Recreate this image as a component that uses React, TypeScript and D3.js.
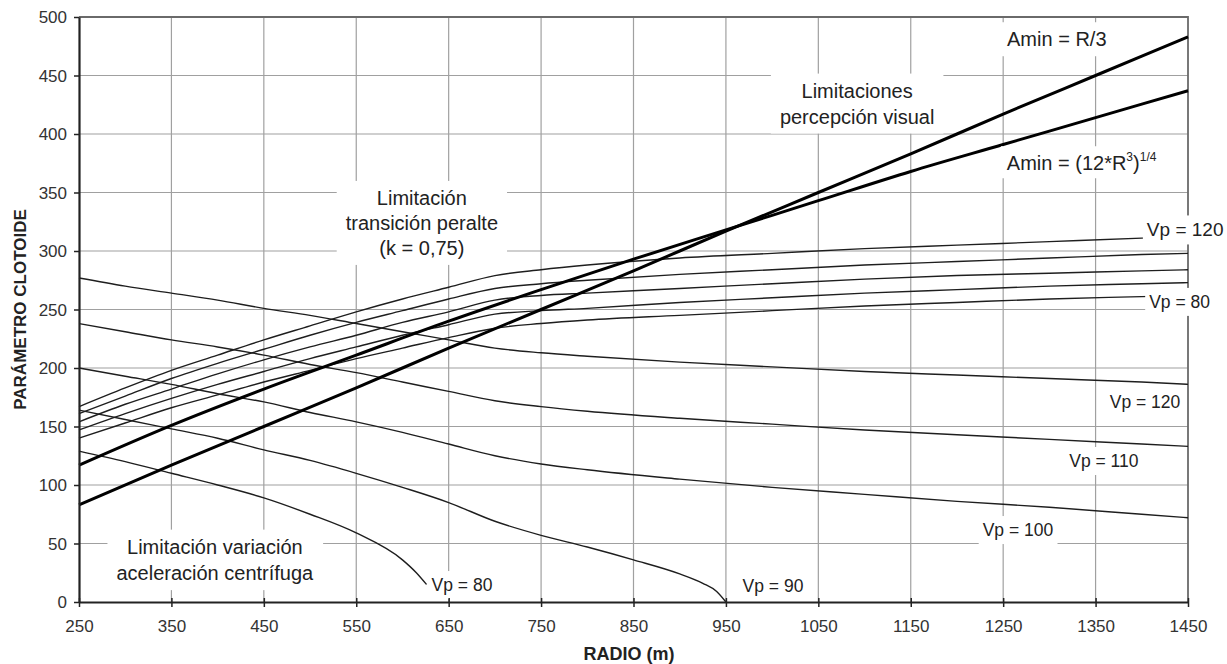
import { useEffect, useRef } from "react";
import * as d3 from "d3";

const W = 1227;
const H = 664;

// axis ticks
const radioTicks = [250, 350, 450, 550, 650, 750, 850, 950, 1050, 1150, 1250, 1350, 1450];
const parametroTicks = [0, 50, 100, 150, 200, 250, 300, 350, 400, 450, 500];

// Limitación transición peralte (k = 0,75), Vp = 80 ... 120
const radiosPeralte = [250, 300, 350, 400, 450, 500, 550, 600, 650, 700, 750, 800, 900, 1000, 1100, 1200, 1300, 1400, 1450];
const peralteVp120 = [167, 183, 198, 211, 224, 236, 248, 259, 269, 279, 284, 288, 294, 298, 302, 305, 308, 311, 312];
const peralteVp110 = [161, 176, 191, 204, 216, 228, 239, 249, 259, 268, 272, 275, 280, 284, 288, 291, 294, 297, 298];
const peralteVp100 = [154, 169, 182, 195, 207, 218, 228, 239, 248, 258, 262, 264, 268, 272, 276, 279, 281, 283, 284];
const peralteVp90 = [147, 161, 174, 186, 197, 208, 218, 228, 237, 246, 249, 251, 256, 260, 264, 267, 270, 272, 273];
const peralteVp80 = [140, 153, 166, 177, 188, 198, 208, 217, 226, 234, 238, 241, 245, 249, 253, 256, 259, 261, 262];

// Limitación variación aceleración centrífuga
const radiosCentr = [250, 300, 350, 400, 450, 500, 550, 600, 650, 700, 750, 800, 900, 1000, 1100, 1200, 1300, 1400, 1450];
const centrVp120 = [277, 270, 264, 258, 251, 245, 238, 231, 224, 217, 213, 210, 205, 201, 197, 194, 191, 188, 186];
const centrVp110 = [238, 231, 224, 218, 211, 203, 196, 188, 180, 172, 167, 163, 157, 152, 147, 143, 139, 135, 133];
const centrVp100 = [200, 193, 186, 178, 171, 162, 154, 145, 135, 125, 118, 113, 105, 98, 92, 86, 81, 75, 72];
const radiosVp90 = [250, 300, 350, 400, 450, 500, 550, 600, 650, 700, 750, 800, 850, 900, 925, 940, 950];
const centrVp90 = [164, 156, 148, 140, 130, 121, 110, 98, 85, 69, 57, 47, 36, 24, 16, 9, 0];
const radiosVp80 = [250, 300, 350, 400, 450, 500, 550, 600, 615, 626];
const centrVp80 = [129, 120, 110, 100, 89, 75, 59, 36, 25, 15];

// Limitaciones percepción visual
const radiosAmin = [250, 350, 450, 550, 650, 750, 850, 950, 1050, 1150, 1250, 1350, 1450];
const aminR3 = [83, 117, 150, 183, 217, 250, 283, 317, 350, 383, 417, 450, 483];
const aminRaiz = [117, 151, 182, 211, 240, 267, 293, 318, 343, 368, 391, 414, 437];

const FONT = "'Liberation Sans', Arial, Helvetica, sans-serif";

export default function App() {
  const ref = useRef<SVGSVGElement>(null);

  useEffect(() => {
    const svg = d3.select(ref.current);
    svg.selectAll("*").remove();

    const x = d3.scaleLinear().domain([250, 1450]).range([79, 1188]);
    const y = d3.scaleLinear().domain([0, 500]).range([602, 17]);

    // grid
    const grid = svg.append("g").attr("stroke", "#a0a0a0").attr("stroke-width", 1.2);
    grid.selectAll("line.v").data(radioTicks.slice(1, -1)).join("line")
      .attr("x1", (d) => x(d)).attr("x2", (d) => x(d))
      .attr("y1", y(0)).attr("y2", y(500));
    grid.selectAll("line.h").data(parametroTicks.slice(1, -1)).join("line")
      .attr("x1", x(250)).attr("x2", x(1450))
      .attr("y1", (d) => y(d)).attr("y2", (d) => y(d));

    // top + right border
    svg.append("path")
      .attr("d", `M${x(250)},${y(500)}H${x(1450)}V${y(0)}`)
      .attr("fill", "none").attr("stroke", "#6a6a6a").attr("stroke-width", 1.8);

    const line = d3.line<[number, number]>()
      .x((d) => x(d[0])).y((d) => y(d[1]))
      .curve(d3.curveMonotoneX);
    const zip = (rs: number[], vs: number[]) => rs.map((r, i) => [r, vs[i]] as [number, number]);

    const thin = [
      zip(radiosPeralte, peralteVp120),
      zip(radiosPeralte, peralteVp110),
      zip(radiosPeralte, peralteVp100),
      zip(radiosPeralte, peralteVp90),
      zip(radiosPeralte, peralteVp80),
      zip(radiosCentr, centrVp120),
      zip(radiosCentr, centrVp110),
      zip(radiosCentr, centrVp100),
      zip(radiosVp90, centrVp90),
      zip(radiosVp80, centrVp80),
    ];
    svg.append("g").selectAll("path").data(thin).join("path")
      .attr("d", (d) => line(d))
      .attr("fill", "none").attr("stroke", "#1e1e1e").attr("stroke-width", 1.4);

    const thick = [zip(radiosAmin, aminR3), zip(radiosAmin, aminRaiz)];
    svg.append("g").selectAll("path").data(thick).join("path")
      .attr("d", (d) => line(d))
      .attr("fill", "none").attr("stroke", "#000").attr("stroke-width", 3);

    // labels with white boxes
    const label = (
      lines: string[], r: number, v: number,
      opts: { size: number; anchor: string; lineH?: number; pad?: number; padY?: number }
    ) => {
      const g = svg.append("g");
      const lh = opts.lineH ?? opts.size * 1.3;
      const cy = y(v);
      const t = g.append("text")
        .attr("font-family", FONT).attr("font-size", opts.size)
        .attr("fill", "#222").attr("text-anchor", opts.anchor);
      lines.forEach((s, i) => {
        t.append("tspan").attr("x", x(r))
          .attr("y", cy + (i - (lines.length - 1) / 2) * lh)
          .attr("dominant-baseline", "central").text(s);
      });
      const bb = (t.node() as SVGTextElement).getBBox();
      const p = opts.pad ?? 6;
      const py = opts.padY ?? p;
      g.insert("rect", "text")
        .attr("x", bb.x - p).attr("y", bb.y - py)
        .attr("width", bb.width + 2 * p).attr("height", bb.height + 2 * py)
        .attr("fill", "#fff");
      return t;
    };

    label(["Limitaciones", "percepción visual"], 1092, 426, { size: 20, anchor: "middle", lineH: 26, pad: 9, padY: 6 });
    label(["Limitación", "transición peralte", "(k = 0,75)"], 621, 324, { size: 20, anchor: "middle", lineH: 25, pad: 9, padY: 6 });
    label(["Limitación variación", "aceleración centrífuga"], 397, 36, { size: 20, anchor: "middle", lineH: 26.5, pad: 9, padY: 6 });
    label(["Amin = R/3"], 1308, 481, { size: 20, anchor: "middle", pad: 6 });

    // Amin = (12*R^3)^(1/4)
    {
      const g = svg.append("g");
      const t = g.append("text").attr("font-family", FONT).attr("font-size", 20)
        .attr("fill", "#222").attr("x", x(1254)).attr("y", y(375) + 7);
      t.append("tspan").text("Amin = (12*R");
      t.append("tspan").attr("font-size", 12).attr("dy", -9).text("3");
      t.append("tspan").attr("dy", 9).text(")");
      t.append("tspan").attr("font-size", 12).attr("dy", -9).text("1/4");
      const bb = (t.node() as SVGTextElement).getBBox();
      g.insert("rect", "text").attr("x", bb.x - 6).attr("y", bb.y - 4)
        .attr("width", bb.width + 12).attr("height", bb.height + 8).attr("fill", "#fff");
    }

    const vp = { size: 17.5, pad: 4 };
    label(["Vp = 120"], 1405.5, 318, { size: 19, pad: 4, anchor: "start" });
    label(["Vp = 80"], 1408, 256.5, { ...vp, anchor: "start" });
    label(["Vp = 120"], 1403.5, 171, { ...vp, anchor: "middle" });
    label(["Vp = 110"], 1359, 120.5, { ...vp, anchor: "middle" });
    label(["Vp = 100"], 1266, 61.5, { ...vp, anchor: "middle" });
    label(["Vp = 80"], 631.5, 14.5, { ...vp, anchor: "start" });
    label(["Vp = 90"], 968, 13.7, { ...vp, anchor: "start" });

    // axes
    const xAxis = svg.append("g").attr("transform", `translate(0,${y(0)})`)
      .call(d3.axisBottom(x).tickValues(radioTicks).tickSize(5).tickSizeOuter(0).tickFormat(d3.format("d")));
    xAxis.select(".domain").attr("stroke", "#222").attr("stroke-width", 2.2);
    xAxis.selectAll(".tick line").attr("stroke", "#222").attr("stroke-width", 1.5).attr("y1", -4);
    xAxis.selectAll(".tick text").attr("font-family", FONT).attr("font-size", 17)
      .attr("fill", "#333").attr("dy", null).attr("y", 24).attr("dominant-baseline", "central");

    const yAxis = svg.append("g").attr("transform", `translate(${x(250)},0)`)
      .call(d3.axisLeft(y).tickValues(parametroTicks).tickSize(5).tickSizeOuter(0).tickFormat(d3.format("d")));
    yAxis.select(".domain").attr("stroke", "#222").attr("stroke-width", 2.2);
    yAxis.selectAll(".tick line").attr("stroke", "#222").attr("stroke-width", 1.5);
    yAxis.selectAll(".tick text").attr("font-family", FONT).attr("font-size", 17)
      .attr("fill", "#333").attr("dy", null).attr("x", -12).attr("dominant-baseline", "central");

    svg.append("text").attr("font-family", FONT).attr("font-size", 17).attr("font-weight", "bold")
      .attr("fill", "#222").attr("text-anchor", "middle").attr("dominant-baseline", "central")
      .attr("transform", `translate(20,${(y(0) + y(500)) / 2}) rotate(-90)`)
      .text("PARÁMETRO CLOTOIDE");
    svg.append("text").attr("font-family", FONT).attr("font-size", 18).attr("font-weight", "bold")
      .attr("fill", "#222").attr("text-anchor", "middle").attr("dominant-baseline", "central")
      .attr("x", 629).attr("y", 654)
      .text("RADIO (m)");
  }, []);

  return (
    <svg ref={ref} width={W} height={H}
      style={{ position: "absolute", left: 0, top: 0, background: "#fff", display: "block" }} />
  );
}
